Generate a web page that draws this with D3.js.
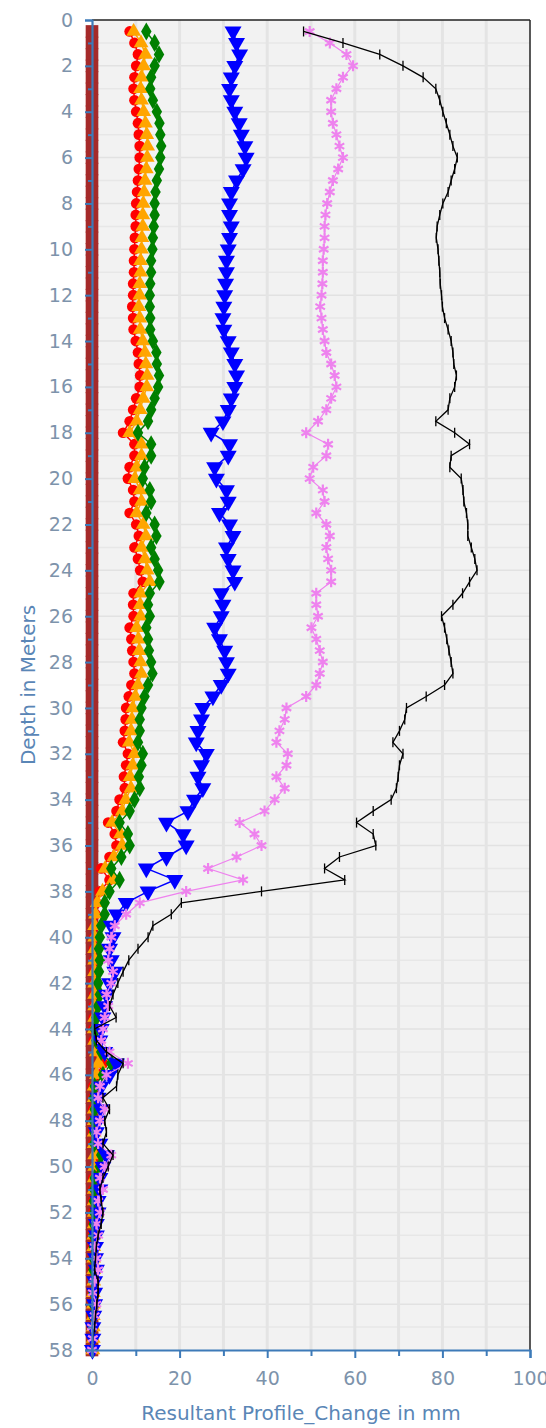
<!DOCTYPE html>
<html><head><meta charset="utf-8">
<script src="https://cdn.jsdelivr.net/npm/d3@7"></script>
<style>body{margin:0;background:#fff;} svg{display:block;font-family:"DejaVu Sans",Verdana,sans-serif;}</style>
</head><body><svg id="c" width="546" height="1428"></svg>
<script>
// Depth (m) of each reading
const depths = [0.5,1,1.5,2,2.5,3,3.5,4,4.5,5,5.5,6,6.5,7,7.5,8,8.5,9,9.5,10,10.5,11,11.5,12,12.5,13,13.5,14,
14.5,15,15.5,16,16.5,17,17.5,18,18.5,19,19.5,20,20.5,21,21.5,22,22.5,23,23.5,24,24.5,25,25.5,26,26.5,27,27.5,28,28.5,
29,29.5,30,30.5,31,31.5,32,32.5,33,33.5,34,34.5,35,35.5,36,36.5,37,37.5,38,38.5,39,39.5,40,40.5,41,41.5,42,42.5,43,
43.5,44,44.5,45,45.5,46,46.5,47,47.5,48,48.5,49,49.5,50,50.5,51,51.5,52,52.5,53,53.5,54,54.5,55,55.5,56,56.5,57,57.5,58];

const seriesBrown = [0,0,0,0,0,0,0,0,0,0,0,0,0,0,0,0,0,0,0,0,0,0,0,0,0,0,0,0,
0,0,0,0,0,0,0,0,0,0,0,0,0,0,0,0,0,0,0,0,0,0,0,0,0,0,0,0,0,
0,0,0,0,0,0,0,0,0,0,0,0,0,0,0,0,0,0,0,0,0,0,0,0,0,0,0,0,0,
0,0,0,0,0,0,0,0,0,0,0,0,0,0,0,0,0,0,0,0,0,0,0,0,0,0,0,0,0,0];

const seriesRed = [8.6,9.7,10.5,10.1,9.7,9.5,9.7,10.1,10.5,10.7,10.9,10.9,10.7,10.5,10.3,10.1,10,10,9.8,9.7,9.6,9.6,9.4,9.4,9.2,9.4,9.5,10,
10.5,10.7,11,10.9,10.1,9.4,8.6,7.1,9.7,9.7,8.6,8.2,9.4,9.7,8.6,10.1,10.7,9.7,10.5,11,11.6,9.5,9.4,9.5,8.6,9,9.2,9.5,9.7,
9,8.4,7.8,7.7,7.5,7.1,8.2,7.8,7.3,7.5,6.3,5.6,3.7,5.2,5.6,4,2.1,4,1.8,1,0.8,0.6,0.5,0.5,0.5,0.5,0.4,0.5,0.4,
0.4,0.3,0.4,1.2,2.5,1.2,0.3,0.3,0.3,0.3,0.3,0.3,1.2,0.8,0.3,0.3,0.3,0.3,0.3,0.2,0.2,0.2,0.2,0.2,0.2,0.2,0.1,0.1,0.1,0.1];

const seriesOrange = [9.5,11.2,12.2,11.8,11.3,11.1,11.3,11.8,12.2,12.5,12.7,12.6,12.4,12.1,11.9,11.7,11.6,11.6,11.4,11.3,11.1,11.1,10.9,10.9,10.7,10.9,11,11.6,
12.1,12.3,12.6,12.5,11.7,11,10.2,8.6,11.3,11.3,10.2,9.8,11,11.3,10.2,11.7,12.3,11.3,12.1,12.6,13.2,11.1,11,11.1,10.2,10.6,10.8,11.1,11.3,
10.5,9.9,9.3,9.1,8.9,8.5,9.7,9.3,8.7,8.9,7.7,6.9,4.6,6.5,6.9,5,3,4.8,2.4,1.2,0.8,0.6,0.6,0.6,0.6,0.6,0.6,0.6,0.6,
0.6,0.5,0.6,1,1.5,1,0.5,0.5,0.5,0.5,0.5,0.5,0.6,0.6,0.5,0.5,0.5,0.5,0.5,0.4,0.4,0.4,0.4,0.4,0.3,0.3,0.3,0.3,0.3,0.2];

const seriesGreen = [12.4,14.3,15.3,14.3,13.5,13.3,13.9,14.8,15.4,15.6,15.8,15.6,15.3,14.8,14.5,14.3,14.3,14.1,13.9,13.8,13.5,13.5,13.3,13.2,13.2,13.3,13.3,13.9,
14.7,14.8,15.3,15.1,14.3,13.5,12.8,10.5,13.5,13.5,12,11.6,13.2,13.5,12.4,14.3,14.7,13.5,14.3,15.1,15.4,13.2,12.8,13.2,12.4,12.8,13,13.5,13.8,
12.8,12,11.3,10.9,10.9,10.5,11.6,11.3,10.7,10.9,9.7,8.6,6.3,8.2,8.6,6.7,4.4,6.3,4,2.9,2.9,2.1,1.8,1.6,1.8,1.6,1.4,1.8,1.4,
1,0.6,1,2.1,4.4,2.5,0.6,0.4,0.6,0.4,0.5,0.5,2.1,1.8,0.6,0.5,0.4,0.5,0.4,0.3,0.4,0.3,0.3,0.4,0.3,0.3,0.2,0.2,0.2,0.1];

const seriesBlue = [32.2,33,33.7,32.6,31.8,31.4,31.8,32.6,33.6,34.1,34.9,35.2,34.5,33,31.8,31.4,31.4,31.8,31.4,31.1,30.7,30.7,30.5,30.3,30.1,29.9,30.1,31.1,
31.8,32.6,33,32.6,31.8,31.1,29.9,27.2,31.4,31.1,28,28.4,30.7,31.1,29.1,31.4,32.2,30.7,31.1,32.2,32.6,29.5,29.9,29.5,28,29.1,30.3,30.7,31.1,
29.5,27.6,25.3,25,24.2,23.8,26.1,25,24.2,25.3,23.4,21.9,17,20.8,21.5,17,12.4,18.9,12.8,7.8,5.6,4.4,4.8,4,4.4,5.2,4,3.3,2.9,
2.5,2.1,1.8,2.9,5.6,4,2.1,1.4,2.1,1.4,1,1.8,3.3,2.5,1.8,1.8,1.4,1.4,1,1,0.8,0.8,1,0.6,0.6,0.6,0.4,0.2,0.2,0.1];

const seriesViolet = [49.7,54.3,58.1,59.6,57.3,55.8,54.6,54.6,55,55.8,56.5,57.3,56.2,55,54.3,53.7,53.3,53.1,53.1,52.9,52.7,52.7,52.6,52.4,52.1,52.4,52.7,53.1,
53.5,54.6,55.4,55.8,54.6,53.5,51.6,48.9,53.9,53.5,50.5,49.7,52.7,53.1,51.2,53.5,54.3,53.5,53.9,54.6,54.6,51.2,51.2,51.6,50.1,51.2,52,52.7,52,
51.2,48.9,44.4,44,42.8,42.1,44.7,44.4,42.1,44,41.7,39.4,33.7,37.1,38.7,33,26.5,34.5,21.5,10.9,7.8,5.2,4.4,4,3.7,4.8,4.4,3.3,3.7,
2.9,2.5,2.1,4,8.2,3.3,1.8,1.4,2.9,1.8,1,1.4,4.4,2.9,1.8,2.5,1.4,1.8,1,1.4,0.6,1,1.4,0.6,0.2,1,0.6,0,0.2,0];

const seriesBlack = [48.3,57.3,65.7,71,75.6,78.5,79.4,80.1,80.9,81.7,82.4,83.4,82.8,82,81.3,80.1,79.4,78.8,78.6,79,79.2,79.4,79.5,79.8,80,80.5,81.3,82,
82.4,82.6,83.2,82.8,81.7,81.3,78.5,82.8,86.2,82,81.7,84.3,84.7,84.9,85.5,85.8,85.8,86.6,87.4,87.9,86.2,84.6,82.4,79.8,80.5,81,81.5,82,82.4,
80.5,76.3,71.8,71.4,70.2,68.7,71,70.2,69.9,69.5,68.3,64.2,60.4,64.2,64.8,56.5,53.1,57.7,38.7,20.4,18.1,13.9,12.8,10.5,8.4,7.1,5.9,4.8,4,
5.5,0.6,1,3.3,7.1,5.9,5.6,2.5,4,2.9,3.3,2.5,4.8,3.7,2.5,1.8,2.1,2.5,2.1,1.4,1,0.8,0.6,1.4,1.4,1.1,0.8,0.6,0.2,0.1];

const xTicks = [0,20,40,60,80,100];
const xMinorTicks = [10,30,50,70,90];
const yTicks = [0,2,4,6,8,10,12,14,16,18,20,22,24,26,28,30,32,34,36,38,40,42,44,46,48,50,52,54,56,58];
const yMinorTicks = [1,3,5,7,9,11,13,15,17,19,21,23,25,27,29,31,33,35,37,39,41,43,45,47,49,51,53,55,57];

const svg = d3.select("#c");
const x = d3.scaleLinear().domain([0,100]).range([92,530]);
const y = d3.scaleLinear().domain([0,58]).range([20,1350]);

// plot background
svg.append("rect").attr("x",92).attr("y",20).attr("width",438).attr("height",1330).attr("fill","#f2f2f2");
// grid
const g = svg.append("g");
g.selectAll("line.h").data(d3.range(1,58,1)).join("line")
  .attr("x1",92).attr("x2",530).attr("y1",d=>y(d)).attr("y2",d=>y(d))
  .attr("stroke",d=>d%2?"#e7e7e7":"#e2e2e2").attr("stroke-width",1.5);
g.selectAll("line.v").data(d3.range(10,100,10)).join("line")
  .attr("x1",d=>x(d)).attr("x2",d=>x(d)).attr("y1",20).attr("y2",1350)
  .attr("stroke","#e4e4e4").attr("stroke-width",3);

const rows = (vals)=>depths.map((d,i)=>({d, v:vals[i]}));
const line = d3.line().x(p=>x(p.v)).y(p=>y(p.d));

function series(vals, color, lw, sym, size, rot, fill, stroke, sw){
  const data = rows(vals);
  const grp = svg.append("g");
  if(lw>0) grp.append("path").datum(data).attr("d",line).attr("fill","none").attr("stroke",color).attr("stroke-width",lw);
  grp.selectAll("path.m").data(data).join("path").attr("class","m")
    .attr("d", typeof sym==="string" ? sym : d3.symbol().type(sym).size(size)())
    .attr("transform",p=>`translate(${x(p.v)},${y(p.d)}) rotate(${rot})`)
    .attr("fill",fill).attr("stroke",stroke).attr("stroke-width",sw);
}

series(seriesBrown,"#a52a2a",0,d3.symbolSquare,160,0,"#a52a2a","none",0);
series(seriesRed,"#ff0000",1.5,d3.symbolCircle,90,0,"#ff0000","none",0);
series(seriesOrange,"#ffa500",1.5,d3.symbolTriangle,95,0,"#ffa500","none",0);
series(seriesGreen,"#008000",1.5,d3.symbolDiamond,95,0,"#008000","none",0);
series(seriesBlue,"#0000ff",1.5,d3.symbolTriangle,125,180,"#0000ff","none",0);
series(seriesViolet,"#ee82ee",1.2,d3.symbolAsterisk,85,0,"none","#ee82ee",2.2);
series(seriesBlack,"#000000",1.3,"M0,-5V5",0,0,"none","#000000",1.3);

// frame
svg.append("line").attr("x1",92).attr("x2",530).attr("y1",20).attr("y2",20).attr("stroke","#222").attr("stroke-width",1.5);
svg.append("line").attr("x1",530).attr("x2",530).attr("y1",20).attr("y2",1350).attr("stroke","#222").attr("stroke-width",1.5);

const axisColor = "#3d7ab8", labelColor = "#7d93ab", fontFam = "DejaVu Sans, Verdana, sans-serif";
svg.append("g").attr("transform","translate(92,0)")
  .call(d3.axisLeft(y).tickValues(yTicks).tickSize(7).tickPadding(12).tickFormat(d3.format("d")));
svg.append("g").attr("transform","translate(92,0)")
  .call(d3.axisLeft(y).tickValues(yMinorTicks).tickSize(4).tickFormat(""))
  .call(s=>s.select(".domain").remove());
svg.append("g").attr("transform","translate(0,1350)")
  .call(d3.axisBottom(x).tickValues(xTicks).tickSize(8).tickPadding(14).tickFormat(d3.format("d")));
svg.append("g").attr("transform","translate(0,1350)")
  .call(d3.axisBottom(x).tickValues(xMinorTicks).tickSize(6).tickFormat(""))
  .call(s=>s.select(".domain").remove());
svg.selectAll(".domain").attr("stroke",axisColor).attr("stroke-width",2.2);
svg.selectAll(".tick line").attr("stroke",axisColor).attr("stroke-width",2);
svg.selectAll(".tick text").attr("fill",labelColor).attr("font-size",19).attr("font-family",fontFam);

svg.append("text").attr("transform","translate(35,685) rotate(-90)").attr("text-anchor","middle")
  .attr("fill","#5a86b6").attr("font-size",20).attr("font-family",fontFam).text("Depth in Meters");
svg.append("text").attr("x",301).attr("y",1420).attr("text-anchor","middle")
  .attr("fill","#5a86b6").attr("font-size",20).attr("font-family",fontFam).text("Resultant Profile_Change in mm");
</script></body></html>
